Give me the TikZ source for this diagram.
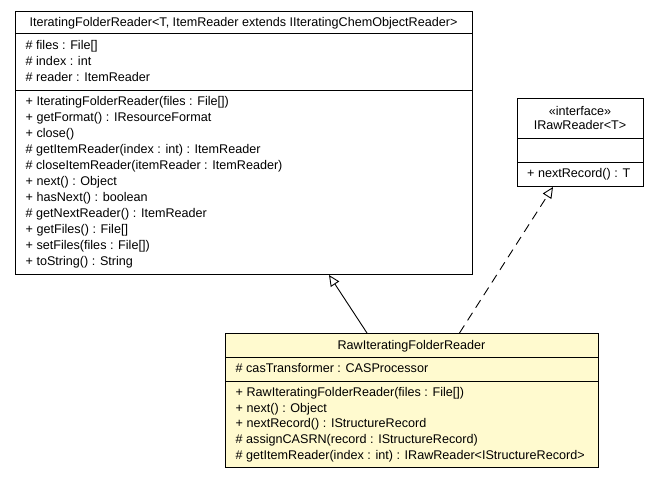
\documentclass[tikz,border=0pt]{standalone}
\usepackage{fontspec}
\setmainfont{Liberation Sans}
\usetikzlibrary{arrows.meta}
\usetikzlibrary{calc}
\usetikzlibrary{positioning}

\definecolor{amarelo}{RGB}{255,250,207}

\tikzset{
  classe/.style={draw=black, line width=1pt, fill=white, inner sep=0pt, anchor=north west},
  membro/.style={inner sep=0pt, anchor=base west, font=\fontsize{12.6}{16}\selectfont},
  titulo/.style={inner sep=0pt, anchor=base, font=\fontsize{12.6}{16}\selectfont},
  heranca/.style={line width=0.9pt, -{Triangle[open,length=11pt,width=10pt,line width=0.9pt]}},
}

\begin{document}
\begin{tikzpicture}[x=1pt,y=-1pt]
\useasboundingbox (0,0) rectangle (659,480);

% classe base
\node[classe, minimum width=457, minimum height=263] (folder) at (15,11) {};
\draw[line width=1pt] ($(folder.north west)+(0,22)$) -- ($(folder.north east)+(0,22)$);
\draw[line width=1pt] ($(folder.north west)+(0,79)$) -- ($(folder.north east)+(0,79)$);
\node[titulo] (folderNome) at (243.5,26.5) {IteratingFolderReader<T, ItemReader extends IIteratingChemObjectReader>};
\node[membro] (fa1) at (25.5,49.5) {\# files : File[]};
\node[membro] (fa2) at (25.5,65.5) {\# index : int};
\node[membro] (fa3) at (25.5,81.5) {\# reader : ItemReader};
\node[membro] (fm1) at (25.5,105.5) {+ IteratingFolderReader(files : File[])};
\node[membro] (fm2) at (25.5,121.5) {+ getFormat() : IResourceFormat};
\node[membro] (fm3) at (25.5,137.5) {+ close()};
\node[membro] (fm4) at (25.5,153.5) {\# getItemReader(index : int) : ItemReader};
\node[membro] (fm5) at (25.5,169.5) {\# closeItemReader(itemReader : ItemReader)};
\node[membro] (fm6) at (25.5,185.5) {+ next() : Object};
\node[membro] (fm7) at (25.5,201.5) {+ hasNext() : boolean};
\node[membro] (fm8) at (25.5,217.5) {\# getNextReader() : ItemReader};
\node[membro] (fm9) at (25.5,233.5) {+ getFiles() : File[]};
\node[membro] (fm10) at (25.5,249.5) {+ setFiles(files : File[])};
\node[membro] (fm11) at (25.5,265.5) {+ toString() : String};

% interface
\node[classe, minimum width=126, minimum height=88] (iraw) at (517,98) {};
\draw[line width=1pt] ($(iraw.north west)+(0,40)$) -- ($(iraw.north east)+(0,40)$);
\draw[line width=1pt] ($(iraw.north west)+(0,64)$) -- ($(iraw.north east)+(0,64)$);
\node[titulo] (irawTipo) at (580,115) {«interface»};
\node[titulo] (irawNome) at (580,129.5) {IRawReader<T>};
\node[membro] (im1) at (527,177.5) {+ nextRecord() : T};

% classe derivada
\node[classe, fill=amarelo, minimum width=373, minimum height=134] (raw) at (225,333) {};
\draw[line width=1pt] ($(raw.north west)+(0,24)$) -- ($(raw.north east)+(0,24)$);
\draw[line width=1pt] ($(raw.north west)+(0,48)$) -- ($(raw.north east)+(0,48)$);
\node[titulo] (rawNome) at (411.5,349.5) {RawIteratingFolderReader};
\node[membro] (ra1) at (235.5,372.5) {\# casTransformer : CASProcessor};
\node[membro] (rm1) at (235.5,396.5) {+ RawIteratingFolderReader(files : File[])};
\node[membro] (rm2) at (235.5,412.5) {+ next() : Object};
\node[membro] (rm3) at (235.5,427.5) {+ nextRecord() : IStructureRecord};
\node[membro] (rm4) at (235.5,443.5) {\# assignCASRN(record : IStructureRecord)};
\node[membro] (rm5) at (235.5,459.5) {\# getItemReader(index : int) : IRawReader<IStructureRecord>};

% setas
\draw[heranca] ($(raw.north west)+(142,0)$) -- ($(folder.south west)+(314,0)$);
\draw[heranca, dash pattern=on 9pt off 6pt] ($(raw.north west)+(234.5,0)$) -- ($(iraw.south west)+(36,0)$);

\end{tikzpicture}
\end{document}
